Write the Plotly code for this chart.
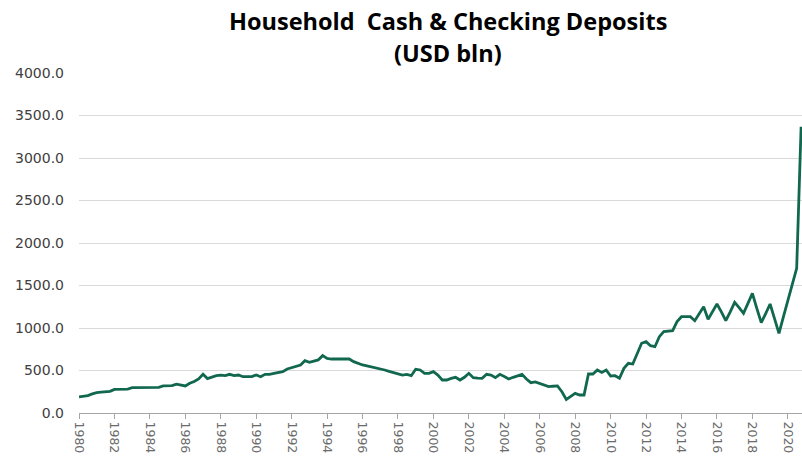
import plotly.graph_objects as go

# Quarterly values, 1980Q1 .. 2020Q4 (USD bln)
years = list(range(1980, 2021))
quarterly_values = [
    190, 200, 205, 225,      # 1980
    240, 245, 250, 255,      # 1981
    278, 280, 280, 282,      # 1982
    298, 298, 300, 298,      # 1983
    300, 300, 302, 318,      # 1984
    320, 322, 340, 330,      # 1985
    318, 350, 370, 400,      # 1986
    455, 405, 425, 440,      # 1987
    445, 439, 455, 440,      # 1988
    447, 427, 427, 428,      # 1989
    447, 427, 455, 455,      # 1990
    467, 475, 486, 518,      # 1991
    533, 550, 565, 616,      # 1992
    596, 610, 624, 675,      # 1993
    643, 635, 635, 635,      # 1994
    635, 635, 604, 584,      # 1995
    565, 555, 545, 530,      # 1996
    520, 506, 490, 478,      # 1997
    467, 447, 455, 439,      # 1998
    514, 506, 467, 467,      # 1999
    486, 447, 388, 388,      # 2000
    408, 420, 388, 420,      # 2001
    467, 416, 410, 408,      # 2002
    455, 447, 416, 455,      # 2003
    430, 400, 420, 435,      # 2004
    455, 400, 357, 365,      # 2005
    349, 330, 310, 315,      # 2006
    318, 250, 160, 195,      # 2007
    231, 212, 212, 459,      # 2008
    459, 506, 478, 506,      # 2009
    435, 439, 408, 525,      # 2010
    584, 576, 702, 820,      # 2011
    839, 792, 780, 898,      # 2012
    957, 963, 969, 1075,     # 2013
    1133, 1133, 1133, 1086,  # 2014
    1170, 1251, 1102, 1190,  # 2015
    1282, 1190, 1086, 1190,  # 2016
    1302, 1240, 1173, 1290,  # 2017
    1408, 1230, 1063, 1170,  # 2018
    1282, 1110, 937, 1130,   # 2019
    1329, 1520, 1702, 3368,  # 2020
]
quarters = [y + q / 4 for y in years for q in range(4)]

tick_years = list(range(1980, 2021, 2))
tick_labels = [str(y) for y in tick_years]
y_ticks = list(range(0, 4001, 500))

title_line1 = "Household  Cash & Checking Deposits"
title_line2 = "(USD bln)"

fig = go.Figure()
fig.add_trace(go.Scatter(
    x=quarters, y=quarterly_values, mode="lines",
    line=dict(color="#11684f", width=2.8),
    hoverinfo="x+y", showlegend=False,
))

fig.update_layout(
    width=802, height=463,
    margin=dict(l=79, r=0, t=73, b=50),
    paper_bgcolor="white", plot_bgcolor="white",
    font=dict(family="DejaVu Sans, sans-serif"),
    annotations=[
        dict(text="<b>" + title_line1 + "</b>", xref="paper", yref="paper",
             x=0.51, y=1, yshift=52, xanchor="center", yanchor="middle",
             showarrow=False,
             font=dict(family="Open Sans", size=23.5, color="#000000")),
        dict(text="<b>" + title_line2 + "</b>", xref="paper", yref="paper",
             x=0.51, y=1, yshift=20, xanchor="center", yanchor="middle",
             showarrow=False,
             font=dict(family="Open Sans", size=23.5, color="#000000")),
    ],
    xaxis=dict(
        range=[1980, 2020.8],
        tickmode="array", tickvals=tick_years, ticktext=tick_labels,
        tickangle=90, ticks="outside", ticklen=5, tickcolor="#a6a6a6",
        showline=True, linecolor="#a6a6a6", linewidth=1,
        showgrid=False, zeroline=False,
        tickfont=dict(size=12.5, color="#6b6b6b"),
    ),
    yaxis=dict(
        range=[0, 4000],
        tickmode="array", tickvals=y_ticks,
        ticktext=[f"{v:.1f}" for v in y_ticks],
        showgrid=True, gridcolor="#d9d9d9", gridwidth=1,
        zeroline=False, showline=False, ticks="",
        ticklabelstandoff=14,
        tickfont=dict(size=14, color="#404040"),
    ),
)

fig.write_html(
    "out.html",
    config={"displayModeBar": False},
    post_script="document.body.style.margin='0';document.body.style.overflow='hidden';",
)
